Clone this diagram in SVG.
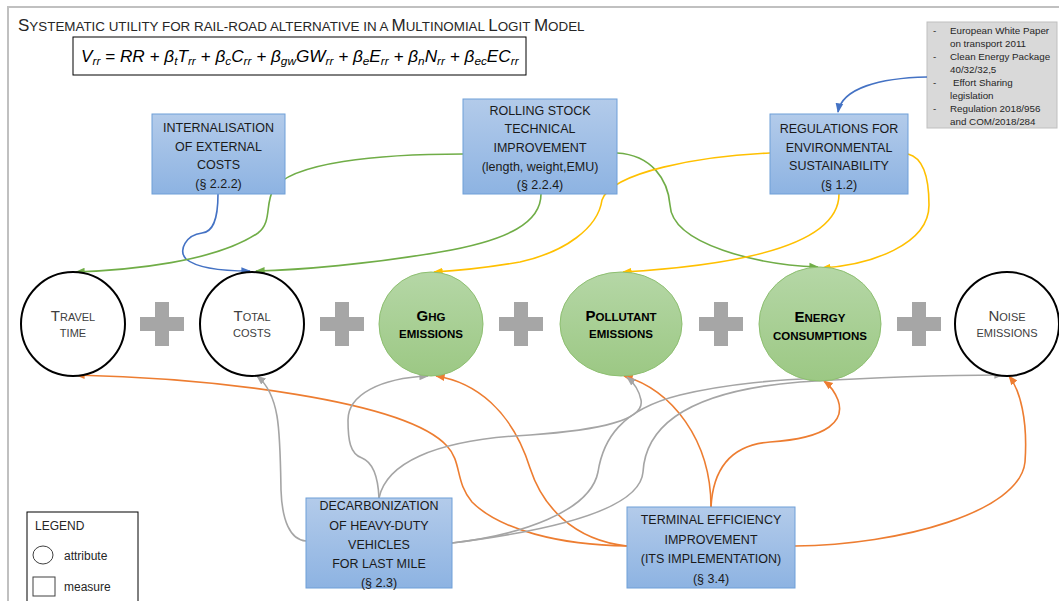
<svg xmlns="http://www.w3.org/2000/svg" width="1059" height="601" viewBox="0 0 1059 601">
<defs>
<linearGradient id="gBlue" x1="0" y1="0" x2="0" y2="1"><stop offset="0" stop-color="#b3cbea"/><stop offset="1" stop-color="#8db3e2"/></linearGradient>
<linearGradient id="gGreen" x1="0" y1="0" x2="0" y2="1"><stop offset="0" stop-color="#b5d7a6"/><stop offset="1" stop-color="#9cc884"/></linearGradient>
<marker id="aBlue" viewBox="0 0 10 10" refX="9" refY="5" markerWidth="6" markerHeight="6" orient="auto"><path d="M0,1 L10,5 L0,9 z" fill="#4472c4"/></marker>
<marker id="aGreen" viewBox="0 0 10 10" refX="9" refY="5" markerWidth="6" markerHeight="6" orient="auto"><path d="M0,1 L10,5 L0,9 z" fill="#70ad47"/></marker>
<marker id="aYellow" viewBox="0 0 10 10" refX="9" refY="5" markerWidth="6" markerHeight="6" orient="auto"><path d="M0,1 L10,5 L0,9 z" fill="#ffc000"/></marker>
<marker id="aOrange" viewBox="0 0 10 10" refX="9" refY="5" markerWidth="6" markerHeight="6" orient="auto"><path d="M0,1 L10,5 L0,9 z" fill="#ed7d31"/></marker>
<marker id="aGray" viewBox="0 0 10 10" refX="9" refY="5" markerWidth="6" markerHeight="6" orient="auto"><path d="M0,1 L10,5 L0,9 z" fill="#a5a5a5"/></marker>
</defs>
<style>
text{font-family:"Liberation Sans",Arial,sans-serif}
.box{fill:url(#gBlue);stroke:#6f9fd8;stroke-width:1}
.bt{font-size:12.5px;fill:#1a1a1a;text-anchor:middle}
.attr{fill:#fff;stroke:#000;stroke-width:2}
.grn{fill:url(#gGreen);stroke:#8dbf70;stroke-width:1}
.ct{fill:#404040;text-anchor:middle}
.gt{fill:#000;text-anchor:middle;font-weight:bold}
.plus{fill:#a6a6a6}
.c{fill:none;stroke-width:1.6}
.blue{stroke:#4472c4;marker-end:url(#aBlue)}
.green{stroke:#70ad47;marker-end:url(#aGreen)}
.yellow{stroke:#ffc000;marker-end:url(#aYellow)}
.orange{stroke:#ed7d31;marker-end:url(#aOrange)}
.gray{stroke:#a5a5a5;marker-end:url(#aGray)}
.note{font-size:9.8px;fill:#262626}
</style>
<rect width="1059" height="601" fill="#fff"/>
<path d="M8,601 V7 H1059" fill="none" stroke="#c0c0c0" stroke-width="2"/>

<g id="title">
<text x="18" y="31" fill="#262626" font-size="13.4"><tspan font-size="17">S</tspan>YSTEMATIC UTILITY  FOR RAIL-ROAD ALTERNATIVE IN A <tspan font-size="17">M</tspan>ULTINOMIAL <tspan font-size="17">L</tspan>OGIT <tspan font-size="17">M</tspan>ODEL</text>
</g>
<g id="formula">
<rect x="73" y="37" width="453" height="38" fill="#fff" stroke="#000" stroke-width="1"/>
<text x="81" y="62" font-family="'Liberation Serif',serif" font-style="italic" font-size="17.2" fill="#000">V<tspan font-size="11.8" dy="3">rr</tspan><tspan dy="-3"> = RR + β</tspan><tspan font-size="11.8" dy="3">t</tspan><tspan dy="-3">T</tspan><tspan font-size="11.8" dy="3">rr</tspan><tspan dy="-3"> + β</tspan><tspan font-size="11.8" dy="3">c</tspan><tspan dy="-3">C</tspan><tspan font-size="11.8" dy="3">rr</tspan><tspan dy="-3"> + β</tspan><tspan font-size="11.8" dy="3">gw</tspan><tspan dy="-3">GW</tspan><tspan font-size="11.8" dy="3">rr</tspan><tspan dy="-3"> + β</tspan><tspan font-size="11.8" dy="3">e</tspan><tspan dy="-3">E</tspan><tspan font-size="11.8" dy="3">rr</tspan><tspan dy="-3"> + β</tspan><tspan font-size="11.8" dy="3">n</tspan><tspan dy="-3">N</tspan><tspan font-size="11.8" dy="3">rr</tspan><tspan dy="-3"> + β</tspan><tspan font-size="11.8" dy="3">ec</tspan><tspan dy="-3">EC</tspan><tspan font-size="11.8" dy="3">rr</tspan></text>
</g>

<g id="legislation">
<rect x="927" y="22" width="130" height="106" fill="#d9d9d9" stroke="#bfbfbf" stroke-width="1"/>
<text class="note" x="933" y="34">-</text><text class="note" x="950" y="34">European White Paper</text>
<text class="note" x="950" y="47">on transport 2011</text>
<text class="note" x="933" y="60">-</text><text class="note" x="950" y="60">Clean Energy Package</text>
<text class="note" x="950" y="73">40/32/32,5</text>
<text class="note" x="933" y="86">-</text><text class="note" x="953" y="86">Effort Sharing</text>
<text class="note" x="950" y="99">legislation</text>
<text class="note" x="933" y="112">-</text><text class="note" x="950" y="112">Regulation 2018/956</text>
<text class="note" x="950" y="125">and COM/2018/284</text>
</g>

<g id="connectors">
<path class="c blue" d="M927,77 C880,78 842,88 838,112"/>
<path class="c blue" d="M218,194 C218,222 212,232 202,233 C186,235 178,250 186,259 C198,269 230,271 250,271"/>
<path class="c green" d="M463,154 C380,154 290,162 273,190 C265,205 272,222 258,233 C215,262 130,270 76,272"/>
<path class="c green" d="M541,194 C541,222 510,240 440,252 C370,264 300,270 256,271"/>
<path class="c green" d="M617,153 C652,155 668,180 670,205 C672,245 760,265 818,267"/>
<path class="c yellow" d="M770,153 C700,156 612,172 602,200 C598,228 565,252 520,262 C480,269 452,271 434,272"/>
<path class="c yellow" d="M839,194 C839,240 760,264 623,272"/>
<path class="c yellow" d="M908,154 C924,158 929,180 929,205 C929,245 870,265 822,268"/>
<path class="c orange" d="M627,546 C560,545 500,530 472,502 C455,482 462,462 447,446 C405,400 210,378 76,375"/>
<path class="c orange" d="M627,546 C572,540 542,505 530,468 C512,410 475,382 436,376"/>
<path class="c orange" d="M711,507 C711,440 672,390 624,376"/>
<path class="c orange" d="M711,507 C713,470 730,445 770,442 C830,438 845,420 838,400 C834,390 828,384 824,381"/>
<path class="c orange" d="M795,546 C900,545 1020,512 1025,462 C1028,420 1020,390 1009,376"/>
<path class="c gray" d="M306,541 C290,540 282,520 281,490 C280,430 280,395 257,376"/>
<path class="c gray" d="M379,498 C378,476 372,462 362,458 C350,454 348,440 348,420 C348,395 380,378 428,376"/>
<path class="c gray" d="M379,498 C386,465 430,440 530,435 C600,430 645,420 641,400 C639,390 633,382 627,377"/>
<path class="c gray" d="M452,543 C520,535 590,512 598,472 C603,440 620,410 680,395 C730,383 780,380 818,378"/>
<path class="c gray" d="M452,543 C540,532 640,512 643,472 C646,420 700,390 800,382 C880,377 950,375 1003,375"/>
</g>

<g id="internalisation">
<rect class="box" x="152" y="114" width="133" height="80"/>
<text class="bt" x="218.5" y="131.5">INTERNALISATION</text>
<text class="bt" x="218.5" y="150.5">OF EXTERNAL</text>
<text class="bt" x="218.5" y="168.5">COSTS</text>
<text class="bt" x="218.5" y="187.5">(§ 2.2.2)</text>
</g>
<g id="rolling-stock">
<rect class="box" x="463" y="99" width="154" height="95"/>
<text class="bt" x="540" y="114.5">ROLLING STOCK</text>
<text class="bt" x="540" y="132.5">TECHNICAL</text>
<text class="bt" x="540" y="151.5">IMPROVEMENT</text>
<text class="bt" x="540" y="170.5">(length, weight,EMU)</text>
<text class="bt" x="540" y="188.5">(§ 2.2.4)</text>
</g>
<g id="regulations">
<rect class="box" x="770" y="114" width="138" height="80"/>
<text class="bt" x="839" y="132.5">REGULATIONS FOR</text>
<text class="bt" x="839" y="151.5">ENVIRONMENTAL</text>
<text class="bt" x="839" y="169.5">SUSTAINABILITY</text>
<text class="bt" x="839" y="188.5">(§ 1.2)</text>
</g>
<g id="decarbonization">
<rect class="box" x="306" y="498" width="146" height="90"/>
<text class="bt" x="379" y="509.5">DECARBONIZATION</text>
<text class="bt" x="379" y="529.5">OF HEAVY-DUTY</text>
<text class="bt" x="379" y="548.5">VEHICLES</text>
<text class="bt" x="379" y="567.5">FOR LAST MILE</text>
<text class="bt" x="379" y="586.5">(§ 2.3)</text>
</g>
<g id="terminal">
<rect class="box" x="627" y="507" width="168" height="81"/>
<text class="bt" x="711" y="523.5">TERMINAL EFFICIENCY</text>
<text class="bt" x="711" y="543.5">IMPROVEMENT</text>
<text class="bt" x="711" y="562.5">(ITS IMPLEMENTATION)</text>
<text class="bt" x="711" y="582.5">(§ 3.4)</text>
</g>

<g id="travel-time">
<circle class="attr" cx="73" cy="324" r="52"/>
<text class="ct" x="73" y="321" font-size="11"><tspan font-size="15">T</tspan>RAVEL</text>
<text class="ct" x="73" y="337" font-size="11">TIME</text>
</g>
<g id="plus1"><path class="plus" d="M155,302 h14 v15 h15 v14 h-15 v15 h-14 v-15 h-15 v-14 h15 z"/></g>
<g id="total-costs">
<circle class="attr" cx="252" cy="324" r="52"/>
<text class="ct" x="252" y="321" font-size="11"><tspan font-size="15">T</tspan>OTAL</text>
<text class="ct" x="252" y="337" font-size="11">COSTS</text>
</g>
<g id="plus2"><path class="plus" d="M335,302 h14 v15 h15 v14 h-15 v15 h-14 v-15 h-15 v-14 h15 z"/></g>
<g id="ghg">
<circle class="grn" cx="431" cy="324" r="52"/>
<text class="gt" x="431" y="321" font-size="11.5"><tspan font-size="15">G</tspan>HG</text>
<text class="gt" x="431" y="338" font-size="11.5">EMISSIONS</text>
</g>
<g id="plus3"><path class="plus" d="M514,302 h14 v15 h15 v14 h-15 v15 h-14 v-15 h-15 v-14 h15 z"/></g>
<g id="pollutant">
<ellipse class="grn" cx="621" cy="324" rx="61" ry="52"/>
<text class="gt" x="621" y="321" font-size="11.5"><tspan font-size="15">P</tspan>OLLUTANT</text>
<text class="gt" x="621" y="338" font-size="11.5">EMISSIONS</text>
</g>
<g id="plus4"><path class="plus" d="M714,302 h14 v15 h15 v14 h-15 v15 h-14 v-15 h-15 v-14 h15 z"/></g>
<g id="energy">
<ellipse class="grn" cx="820" cy="324" rx="61" ry="57"/>
<text class="gt" x="820" y="322" font-size="11.5"><tspan font-size="15">E</tspan>NERGY</text>
<text class="gt" x="820" y="340" font-size="11.5">CONSUMPTIONS</text>
</g>
<g id="plus5"><path class="plus" d="M912,302 h14 v15 h15 v14 h-15 v15 h-14 v-15 h-15 v-14 h15 z"/></g>
<g id="noise">
<circle class="attr" cx="1007" cy="324" r="52"/>
<text class="ct" x="1007" y="321" font-size="11"><tspan font-size="15">N</tspan>OISE</text>
<text class="ct" x="1007" y="337" font-size="11">EMISSIONS</text>
</g>

<g id="legend">
<rect x="27" y="512" width="111" height="90" fill="#fff" stroke="#000" stroke-width="1"/>
<text x="35" y="530" font-size="12" fill="#262626">LEGEND</text>
<ellipse cx="43" cy="555" rx="10" ry="9" fill="#fff" stroke="#404040" stroke-width="1"/>
<text x="64" y="560" font-size="12" fill="#262626">attribute</text>
<rect x="33" y="577" width="22" height="19" fill="#fff" stroke="#404040" stroke-width="1"/>
<text x="64" y="591" font-size="12" fill="#262626">measure</text>
</g>
</svg>
